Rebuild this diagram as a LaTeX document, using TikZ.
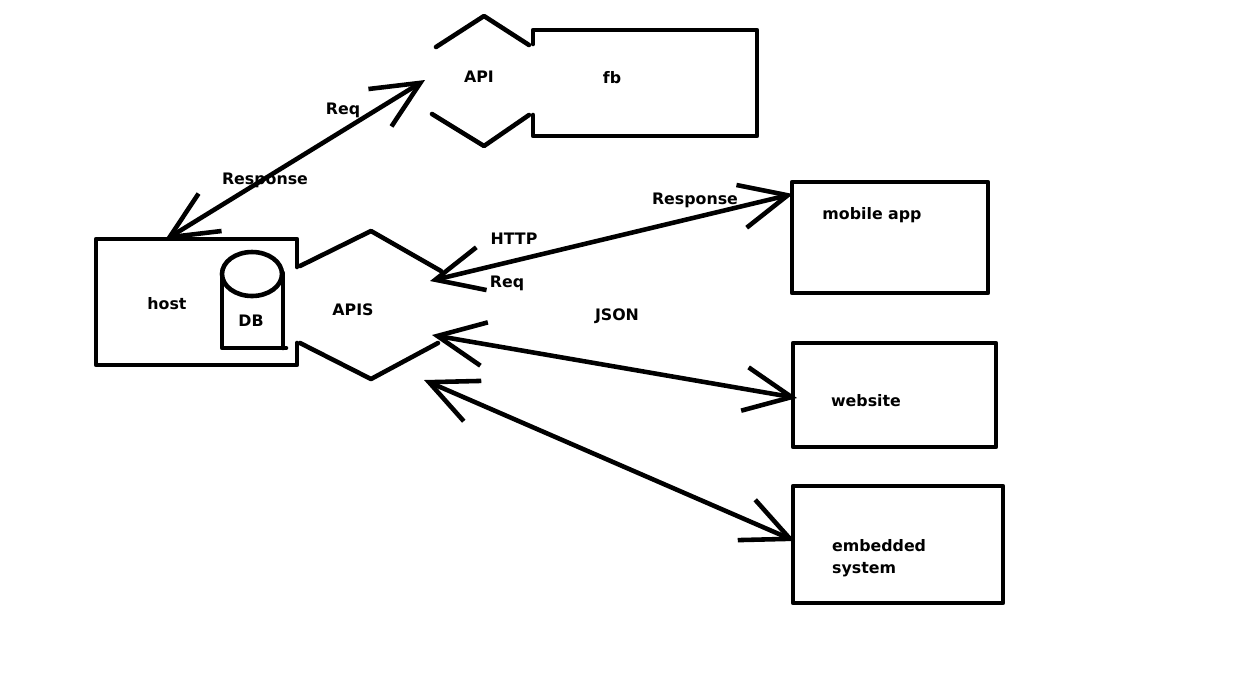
\documentclass[tikz,border=0pt]{standalone}
\usepackage{fontspec}
\setmainfont{DejaVu Sans}
\usetikzlibrary{arrows.meta}

\tikzset{
  pen/.style={line width=2.6pt, line cap=round, line join=round},
  box/.style={pen, draw, rectangle, inner sep=0pt},
  lbl/.style={font=\bfseries\fontsize{9}{12.5}\selectfont, inner sep=1pt},
  >={Straight Barb[length=27pt,width=25pt]}
}

\begin{document}
\begin{tikzpicture}[x=0.2mm,y=-0.2mm]
\useasboundingbox (0,0) rectangle (1249,680);

% fb box with the API gateway in front
\draw[pen] (533,44) -- (533,30) -- (757,30) -- (757,136) -- (533,136) -- (533,115);
\draw[pen] (436,47) -- (484,16) -- (529,45);
\draw[pen] (432,114) -- (484,146) -- (529,115);
\node[lbl] (api) at (479,77) {API};
\node[lbl] (fb) at (612,78) {fb};

% host with DB and APIS
\draw[pen] (297,267) -- (297,239) -- (96,239) -- (96,365) -- (297,365) -- (297,343);
\draw[pen] (252,274) ellipse [x radius=6mm, y radius=4.4mm];
\draw[pen] (222,278) -- (222,348) -- (286,348);
\draw[pen] (283,273) -- (283,348);
\draw[pen] (300,266) -- (371,231) -- (441,271);
\draw[pen] (300,343) -- (371,379) -- (438,343);
\node[lbl] (host) at (167,304) {host};
\node[lbl] (db) at (251,321) {DB};
\node[lbl] (apis) at (353,310) {APIS};

% clients
\node[box, minimum width=39.2mm, minimum height=22.2mm] (mobile) at (890,237.5) {};
\node[box, minimum width=40.6mm, minimum height=20.8mm] (website) at (894.5,395) {};
\node[box, minimum width=42mm, minimum height=23.4mm] (embedded) at (898,544.5) {};
\node[lbl] (mobiletxt) at (872,215) {mobile app};
\node[lbl] (websitetxt) at (866,401) {website};
\node[lbl, anchor=west, align=left] (embeddedtxt) at (830,558) {embedded\\system};

% arrow ends
\coordinate (host-top) at (165,240);
\coordinate (api-w) at (425,80);
\coordinate (apis-1) at (430,281);
\coordinate (apis-2) at (432,335);
\coordinate (apis-3) at (424,380);
\coordinate (mobile-w) at (793,194);
\coordinate (website-w) at (797,398);
\coordinate (embedded-w) at (795,541);

\draw[pen,<->] (host-top) -- (api-w);
\draw[pen,<->] (apis-1) -- (mobile-w);
\draw[pen,<->] (apis-2) -- (website-w);
\draw[pen,<->] (apis-3) -- (embedded-w);

% labels
\node[lbl] (req1) at (343,110) {Req};
\node[lbl] (resp1) at (265,180) {Response};
\node[lbl] (http) at (514,239) {HTTP};
\node[lbl] (req2) at (507,283) {Req};
\node[lbl] (resp2) at (695,200) {Response};
\node[lbl] (json) at (617,316) {JSON};
\end{tikzpicture}
\end{document}
